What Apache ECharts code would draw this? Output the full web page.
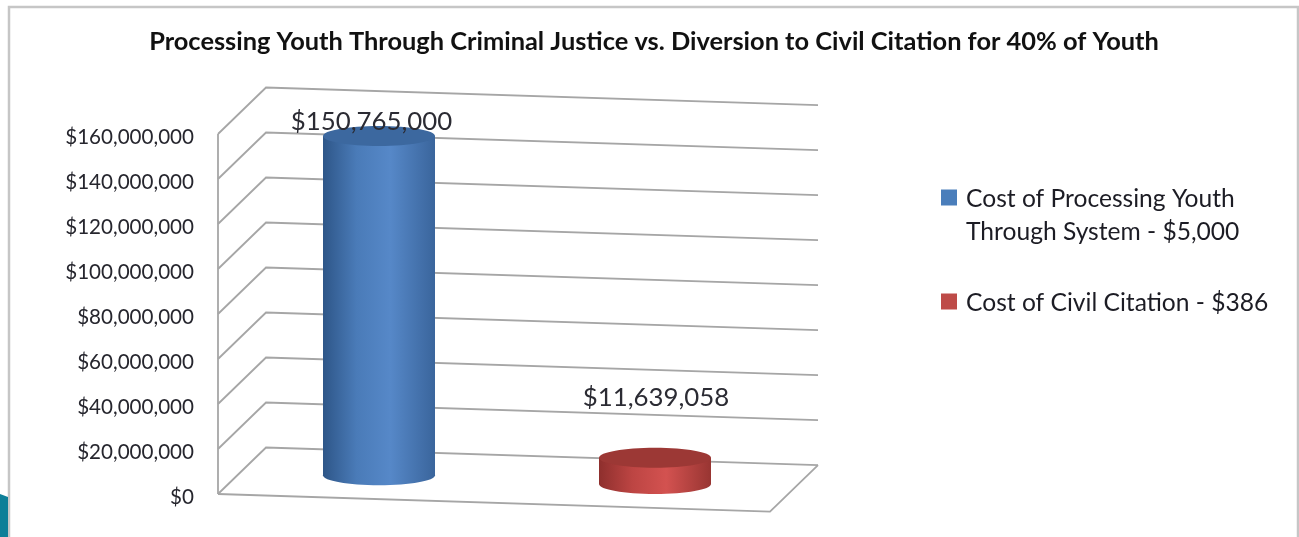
<!DOCTYPE html>
<html>
<head>
<meta charset="utf-8">
<style>html,body{margin:0;padding:0;background:#fff}#chart{width:1299px;height:537px}</style>
<script src="https://cdn.jsdelivr.net/npm/echarts@6/dist/echarts.min.js"></script>
</head>
<body>
<div id="chart"></div>
<script>
const categories = ['Processing', 'Civil Citation'];
const processingCost = [150765000];
const citationCost = [11639058];
const axisTicks = [0, 20000000, 40000000, 60000000, 80000000, 100000000, 120000000, 140000000, 160000000];
const titleText = 'Processing Youth Through Criminal Justice vs. Diversion to Civil Citation for 40% of Youth';
const processingName = 'Cost of Processing Youth\nThrough System - $5,000';
const citationName = 'Cost of Civil Citation - $386';

// Oblique projection of the box: depth offset and the sideways tilt of the planes
const DEPTH_X = 48, DEPTH_Y = -46.5, TILT = 0.032;
const FONT = 'Lato, "Open Sans", sans-serif';
const LINE = '#a6a6a6';
const money = v => '$' + Math.round(v).toLocaleString('en-US');

function renderBox(params, api) {
  const cs = params.coordSys;
  const val = api.value(0);
  const y = api.coord([0, val])[1];
  const x0 = cs.x, x1 = cs.x + cs.width;
  const drop = cs.width * TILT;
  const style = { stroke: LINE, lineWidth: 1.8, fill: null };
  const children = [{
    type: 'polyline',
    shape: { points: [[x0, y], [x0 + DEPTH_X, y + DEPTH_Y], [x1 + DEPTH_X, y + DEPTH_Y + drop]] },
    style
  }];
  if (val === 0) {
    children.push({
      type: 'polyline',
      shape: { points: [[x1 + DEPTH_X, y + DEPTH_Y + drop], [x1, y + drop], [x0, y]] },
      style
    });
    const top = api.coord([0, axisTicks[axisTicks.length - 1]])[1];
    children.push({ type: 'line', shape: { x1: x0, y1: y, x2: x0, y2: top }, style });
  }
  return { type: 'group', children };
}

// Cylinder standing half way back on the floor, height taken from the value axis
function cylinder(shade, labelDx, labelDy) {
  return function (params, api) {
    const cs = params.coordSys;
    const cat = api.value(0), val = api.value(1);
    const front = api.coord([cat, val]);
    const base = api.coord([cat, 0]);
    const rx = 56, ry = 10;
    const cx = front[0] + DEPTH_X / 2 - 1;
    const shift = (front[0] - cs.x) * TILT + DEPTH_Y / 2;
    const yTop = front[1] + shift, yBase = base[1] + shift;
    const body = {
      type: 'linear', x: 0, y: 0, x2: 1, y2: 0,
      colorStops: [
        { offset: 0, color: shade[0] },
        { offset: 0.3, color: shade[1] },
        { offset: 0.6, color: shade[2] },
        { offset: 1, color: shade[3] }
      ]
    };
    return {
      type: 'group',
      children: [
        { type: 'ellipse', shape: { cx, cy: yBase, rx, ry }, style: { fill: body } },
        { type: 'rect', shape: { x: cx - rx, y: yTop, width: rx * 2, height: yBase - yTop }, style: { fill: body } },
        { type: 'ellipse', shape: { cx, cy: yTop, rx, ry }, style: { fill: shade[4] } },
        {
          type: 'text',
          style: {
            text: money(val), x: cx + labelDx, y: yTop + labelDy,
            align: 'center', verticalAlign: 'middle',
            font: '25.8px ' + FONT, fill: '#2b2b33'
          }
        }
      ]
    };
  };
}

// Legend text: a blank first line keeps the swatch level with the first line of a two-line entry
function legendText(name) {
  const lines = name.split('\n');
  if (lines.length > 1) lines.unshift(' ');
  return lines.map(l => '{entry|' + l + '}').join('\n');
}

const chart = echarts.init(document.getElementById('chart'), null, { renderer: 'canvas' });
chart.setOption({
  animation: false,
  backgroundColor: '#fff',
  title: {
    text: titleText, left: 649, top: 24, textAlign: 'center',
    textStyle: { fontFamily: FONT, fontWeight: 'bold', fontSize: 25.4, color: '#111' }
  },
  grid: { left: 218, top: 134, width: 552, height: 360 },
  xAxis: { type: 'category', data: categories, show: false },
  yAxis: {
    type: 'value', min: 0, max: 160000000, interval: 20000000,
    axisLine: { show: false }, axisTick: { show: false }, splitLine: { show: false },
    axisLabel: {
      margin: 24, formatter: v => '{tick|' + money(v) + '}',
      rich: { tick: { fontFamily: FONT, fontSize: 20.6, color: '#26262e', padding: [7, 0, 0, 0] } }
    }
  },
  legend: {
    orient: 'vertical', left: 941, top: 150, padding: 0, itemWidth: 16, itemHeight: 16, itemGap: 42, selectedMode: false,
    icon: 'rect',
    formatter: legendText,
    textStyle: {
      rich: { entry: { fontFamily: FONT, fontSize: 24.6, lineHeight: 33, color: '#1c1c24', padding: [4, 0, 0, 4] } }
    },
    data: [processingName, citationName]
  },
  tooltip: { show: false },
  graphic: [
    { type: 'rect', z: -1, shape: { x: 9, y: 7, width: 1289, height: 540 }, style: { fill: '#fff', stroke: '#c6c6c6', lineWidth: 2.5 } },
    { type: 'polygon', z: -1, shape: { points: [[0, 494], [8, 497], [8, 537], [0, 537]] }, style: { fill: '#0d7f98' } }
  ],
  series: [
    {
      type: 'custom', name: 'Walls', coordinateSystem: 'cartesian2d', z: 1,
      data: axisTicks.map(v => [v]), encode: { y: 0 }, renderItem: renderBox, silent: true
    },
    {
      type: 'custom', name: processingName, coordinateSystem: 'cartesian2d', z: 2,
      itemStyle: { color: '#4a7ebb' },
      data: processingCost.map(v => [0, v]), encode: { x: 0, y: 1 },
      renderItem: cylinder(['#2e5688', '#4a7bb8', '#5688c8', '#3a659c', '#3c689f'], -7.5, -14)
    },
    {
      type: 'custom', name: citationName, coordinateSystem: 'cartesian2d', z: 2,
      itemStyle: { color: '#be4b48' },
      data: citationCost.map(v => [1, v]), encode: { x: 0, y: 1 },
      renderItem: cylinder(['#8e2f2d', '#bd4543', '#d35250', '#983532', '#9c3835'], 1, -60)
    }
  ]
});
</script>
</body>
</html>
